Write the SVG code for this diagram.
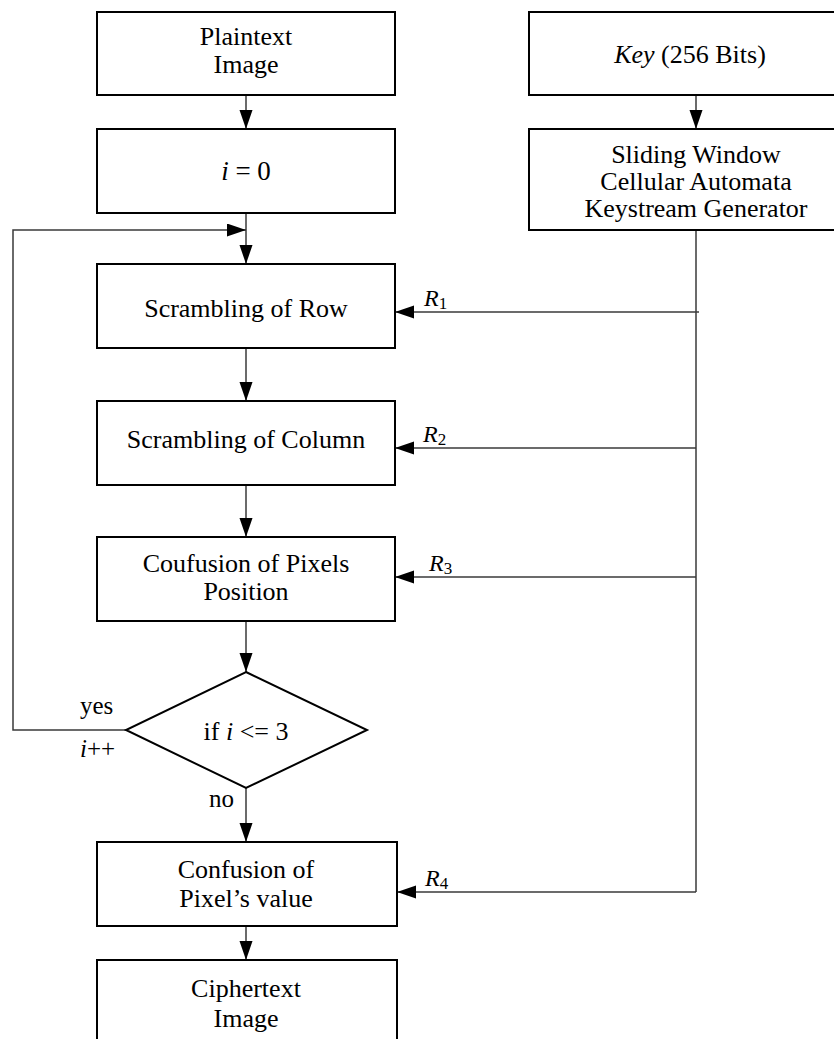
<svg xmlns="http://www.w3.org/2000/svg" width="834" height="1039" viewBox="0 0 834 1039">
  <style>
    .box { fill: #ffffff; stroke: #000000; stroke-width: 2; }
    .wire { fill: none; stroke: #3a3a3a; stroke-width: 1.5; }
    text { font-family: 'Liberation Serif', 'DejaVu Serif', serif; fill: #000000; }
    .t { font-size: 26px; text-anchor: middle; }
    .lbl { font-size: 25px; }
    .r { font-size: 24px; font-style: italic; }
    .sub { font-size: 17px; font-style: normal; }
    .it { font-style: italic; }
  </style>
  <defs>
    <marker id="arrow" markerUnits="userSpaceOnUse" markerWidth="20" markerHeight="14" refX="19" refY="6.5" orient="auto">
      <path d="M0,0 L19,6.5 L0,13 Z" fill="#000000"/>
    </marker>
  </defs>

  <rect width="834" height="1039" fill="#ffffff"/>

  <!-- connectors -->
  <g id="connectors">
    <line class="wire" x1="246" y1="95" x2="246" y2="129" marker-end="url(#arrow)"/>
    <line class="wire" x1="246" y1="213" x2="246" y2="264" marker-end="url(#arrow)"/>
    <line class="wire" x1="246" y1="348" x2="246" y2="401" marker-end="url(#arrow)"/>
    <line class="wire" x1="246" y1="485" x2="246" y2="537" marker-end="url(#arrow)"/>
    <line class="wire" x1="246" y1="621" x2="246" y2="672" marker-end="url(#arrow)"/>
    <line class="wire" x1="246" y1="788" x2="246" y2="842" marker-end="url(#arrow)"/>
    <line class="wire" x1="246" y1="926" x2="246" y2="960" marker-end="url(#arrow)"/>
    <!-- loop back (yes branch) -->
    <polyline class="wire" points="126,730 13,730 13,230 246,230" marker-end="url(#arrow)"/>
    <!-- key path -->
    <line class="wire" x1="696" y1="95" x2="696" y2="129" marker-end="url(#arrow)"/>
    <line class="wire" x1="696" y1="230" x2="696" y2="892"/>
    <line class="wire" x1="699" y1="312" x2="395" y2="312" marker-end="url(#arrow)"/>
    <line class="wire" x1="696" y1="448" x2="395" y2="448" marker-end="url(#arrow)"/>
    <line class="wire" x1="696" y1="577" x2="395" y2="577" marker-end="url(#arrow)"/>
    <line class="wire" x1="696" y1="892" x2="397" y2="892" marker-end="url(#arrow)"/>
  </g>

  <g id="plaintext">
    <rect class="box" x="97" y="12" width="298" height="83"/>
    <text class="t" x="246" y="45">Plaintext</text>
    <text class="t" x="246" y="73">Image</text>
  </g>

  <g id="init">
    <rect class="box" x="97" y="129" width="298" height="84"/>
    <text class="t" x="246" y="180" style="font-size:27px"><tspan class="it">i</tspan> = 0</text>
  </g>

  <g id="row">
    <rect class="box" x="97" y="264" width="298" height="84"/>
    <text class="t" x="246" y="317">Scrambling of Row</text>
  </g>

  <g id="column">
    <rect class="box" x="97" y="401" width="298" height="84"/>
    <text class="t" x="246" y="448">Scrambling of Column</text>
  </g>

  <g id="position">
    <rect class="box" x="97" y="537" width="298" height="84"/>
    <text class="t" x="246" y="572">Coufusion of Pixels</text>
    <text class="t" x="246" y="600">Position</text>
  </g>

  <g id="decision">
    <polygon class="box" points="246,672 367,730 246,788 126,730"/>
    <text class="t" x="246" y="740">if <tspan class="it">i</tspan> &lt;= 3</text>
    <text class="lbl" x="80" y="714">yes</text>
    <text class="lbl" x="80" y="757"><tspan class="it">i</tspan>++</text>
    <text class="lbl" x="209" y="807">no</text>
  </g>

  <g id="value">
    <rect class="box" x="97" y="842" width="300" height="84"/>
    <text class="t" x="246" y="878">Confusion of</text>
    <text class="t" x="246" y="907">Pixel’s value</text>
  </g>

  <g id="ciphertext">
    <rect class="box" x="97" y="960" width="300" height="90"/>
    <text class="t" x="246" y="997">Ciphertext</text>
    <text class="t" x="246" y="1027">Image</text>
  </g>

  <g id="key">
    <rect class="box" x="529" y="12" width="340" height="83"/>
    <text class="t" x="690" y="63"><tspan class="it">Key</tspan> (256 Bits)</text>
  </g>

  <g id="generator">
    <rect class="box" x="529" y="129" width="340" height="101"/>
    <text class="t" x="696" y="163">Sliding Window</text>
    <text class="t" x="696" y="190">Cellular Automata</text>
    <text class="t" x="696" y="217">Keystream Generator</text>
  </g>

  <g id="stream-labels">
    <text class="r" x="424" y="306">R<tspan class="sub" dy="3">1</tspan></text>
    <text class="r" x="423" y="442">R<tspan class="sub" dy="3">2</tspan></text>
    <text class="r" x="429" y="571">R<tspan class="sub" dy="3">3</tspan></text>
    <text class="r" x="425" y="886">R<tspan class="sub" dy="3">4</tspan></text>
  </g>
</svg>
